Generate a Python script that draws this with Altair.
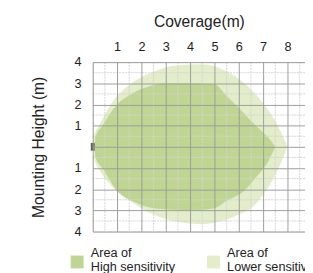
import altair as alt
import pandas as pd

# High sensitivity area (x in m, upper / lower bound in m)
high_x   = [0.08, 0.12, 0.4, 1.0, 1.6, 2.3, 3.0, 4.0, 5.0, 5.5, 6.2, 6.7, 7.2, 7.5]
high_top = [0.0, 0.5, 1.0, 2.0, 2.5, 2.85, 3.0, 3.0, 2.95, 2.4, 1.6, 1.0, 0.45, 0.0]
high_bot = [0.0, -0.5, -1.0, -2.07, -2.55, -2.85, -2.95, -3.0, -2.9, -2.55, -2.1, -1.45, -0.7, 0.0]

# Lower sensitivity area
low_x   = [0.0, 0.05, 0.26, 0.74, 1.6, 2.5, 3.5, 4.5, 5.0, 6.0, 6.6, 7.1, 7.6, 8.0]
low_top = [0.0, 0.5, 1.0, 2.0, 3.0, 3.55, 3.85, 3.9, 3.8, 3.2, 2.6, 1.9, 1.0, 0.0]
low_bot = [0.0, -0.5, -1.05, -1.8, -2.6, -3.2, -3.55, -3.65, -3.6, -3.2, -2.8, -2.1, -1.1, 0.0]

series_names = ["Area of|High sensitivity", "Area of|Lower sensitivity"]
series_colors = ["#bfd692", "#e3edca"]

x_ticks = list(range(0, 10))
y_ticks = list(range(-4, 5))
x_minor = [i + 0.5 for i in range(0, 9)]
y_minor = [i + 0.5 for i in range(-4, 4)]

df_high = pd.DataFrame({"x": high_x, "y": high_top, "y2": high_bot, "s": series_names[0]})
df_low = pd.DataFrame({"x": low_x, "y": low_top, "y2": low_bot, "s": series_names[1]})

xs = alt.Scale(domain=[0, 8.72], nice=False, zero=False)
ys = alt.Scale(domain=[-4, 4], nice=False, zero=False)

color = alt.Color(
    "s:N",
    scale=alt.Scale(domain=series_names, range=series_colors),
    legend=alt.Legend(
        orient="none", legendX=-23, legendY=189, direction="horizontal",
        title=None, labelExpr="split(datum.label, '|')",
        symbolType="M-1,0.4H1V2.4H-1Z", symbolSize=175, symbolStrokeWidth=0,
        labelFontSize=13, labelFont="Liberation Sans", labelColor="#222",
        labelOffset=7, columnPadding=32, labelLimit=0,
    ),
)

x_axis = alt.Axis(
    orient="top", values=x_ticks, labelExpr="datum.value == 0 ? '' : datum.label",
    title="Coverage(m)", grid=True, gridColor="#9c9c9c", gridWidth=1,
    domain=False, ticks=False, labelPadding=9, titlePadding=12, zindex=1,
    labelFontSize=13, titleFontSize=16, titleFontWeight="normal",
    labelFont="Liberation Sans", titleFont="Liberation Sans",
    labelColor="#222", titleColor="#222", labelFlush=False,
)
y_axis = alt.Axis(
    values=y_ticks, labelExpr="datum.value == 0 ? '' : abs(datum.value)",
    title="Mounting Height (m)", grid=True, gridColor="#9c9c9c", gridWidth=1,
    domain=False, ticks=False, labelPadding=12, titlePadding=28, zindex=1,
    labelFontSize=13, titleFontSize=16, titleFontWeight="normal",
    labelFont="Liberation Sans", titleFont="Liberation Sans",
    labelColor="#222", titleColor="#222", labelFlush=False,
)

X = alt.X("x:Q", scale=xs, axis=x_axis)
Y = alt.Y("y:Q", scale=ys, axis=y_axis)

low_area = alt.Chart(df_low).mark_area(interpolate="monotone").encode(
    x=X, y=Y, y2="y2:Q", color=color,
)
high_area = alt.Chart(df_high).mark_area(interpolate="monotone").encode(
    x=X, y=Y, y2="y2:Q", color=color,
)

minor_v = alt.Chart(pd.DataFrame({"x": x_minor})).mark_rule(
    color="#d4d4d4", strokeWidth=1, strokeDash=[2, 1]
).encode(x=X)
minor_h = alt.Chart(pd.DataFrame({"y": y_minor})).mark_rule(
    color="#d4d4d4", strokeWidth=1, strokeDash=[2, 1]
).encode(y=Y)

sensor = alt.Chart(pd.DataFrame({"x": [0], "y": [0]})).mark_tick(
    color="#222", orient="vertical", size=8, thickness=4
).encode(x=X, y=Y)

chart = alt.layer(low_area, high_area, minor_v, minor_h, sensor).properties(
    width=218, height=174,
    autosize=alt.AutoSizeParams(type="none"),
    padding={"left": 87, "top": 52, "right": 0, "bottom": 39},
).configure_view(stroke=None).configure(background="white")

chart.save("out.html", embed_options={"renderer": "svg", "actions": False})
